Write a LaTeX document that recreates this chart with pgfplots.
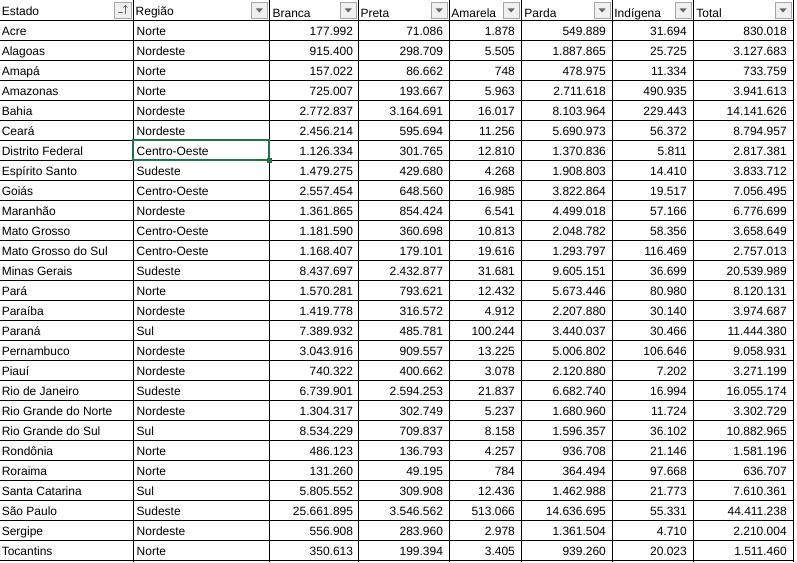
\documentclass[border=0pt]{standalone}
\usepackage{fontspec}
\setmainfont{Liberation Sans}
\usepackage{pgfplots}
\usepackage{pgfplotstable}
\pgfplotsset{compat=1.18}
\pgfplotstableread[col sep=semicolon]{
Estado;Regiao;Branca;Preta;Amarela;Parda;Indigena;Total
Acre;Norte;177.992;71.086;1.878;549.889;31.694;830.018
Alagoas;Nordeste;915.400;298.709;5.505;1.887.865;25.725;3.127.683
Amapá;Norte;157.022;86.662;748;478.975;11.334;733.759
Amazonas;Norte;725.007;193.667;5.963;2.711.618;490.935;3.941.613
Bahia;Nordeste;2.772.837;3.164.691;16.017;8.103.964;229.443;14.141.626
Ceará;Nordeste;2.456.214;595.694;11.256;5.690.973;56.372;8.794.957
Distrito Federal;Centro-Oeste;1.126.334;301.765;12.810;1.370.836;5.811;2.817.381
Espírito Santo;Sudeste;1.479.275;429.680;4.268;1.908.803;14.410;3.833.712
Goiás;Centro-Oeste;2.557.454;648.560;16.985;3.822.864;19.517;7.056.495
Maranhão;Nordeste;1.361.865;854.424;6.541;4.499.018;57.166;6.776.699
Mato Grosso;Centro-Oeste;1.181.590;360.698;10.813;2.048.782;58.356;3.658.649
Mato Grosso do Sul;Centro-Oeste;1.168.407;179.101;19.616;1.293.797;116.469;2.757.013
Minas Gerais;Sudeste;8.437.697;2.432.877;31.681;9.605.151;36.699;20.539.989
Pará;Norte;1.570.281;793.621;12.432;5.673.446;80.980;8.120.131
Paraíba;Nordeste;1.419.778;316.572;4.912;2.207.880;30.140;3.974.687
Paraná;Sul;7.389.932;485.781;100.244;3.440.037;30.466;11.444.380
Pernambuco;Nordeste;3.043.916;909.557;13.225;5.006.802;106.646;9.058.931
Piauí;Nordeste;740.322;400.662;3.078;2.120.880;7.202;3.271.199
Rio de Janeiro;Sudeste;6.739.901;2.594.253;21.837;6.682.740;16.994;16.055.174
Rio Grande do Norte;Nordeste;1.304.317;302.749;5.237;1.680.960;11.724;3.302.729
Rio Grande do Sul;Sul;8.534.229;709.837;8.158;1.596.357;36.102;10.882.965
Rondônia;Norte;486.123;136.793;4.257;936.708;21.146;1.581.196
Roraima;Norte;131.260;49.195;784;364.494;97.668;636.707
Santa Catarina;Sul;5.805.552;309.908;12.436;1.462.988;21.773;7.610.361
São Paulo;Sudeste;25.661.895;3.546.562;513.066;14.636.695;55.331;44.411.238
Sergipe;Nordeste;556.908;283.960;2.978;1.361.504;4.710;2.210.004
Tocantins;Norte;350.613;199.394;3.405;939.260;20.023;1.511.460
}\data
\definecolor{xlgreen}{HTML}{217346}
\newcommand{\fnt}{\fontsize{9}{10}\selectfont}
\newcommand{\txtcol}[3]{% meta, x, anchor
\addplot[draw=none, mark=none, nodes near coords, point meta=explicit symbolic,
  nodes near coords style={anchor=#3, inner sep=0pt, font=\fnt, text=black}]
  table[x expr=#2, y expr=35.5+20*\coordindex, meta=#1]{\data};}
\newcommand{\btn}[1]{% right edge x
\draw[gray!70, fill=gray!12] (axis cs:#1-18,2) rectangle (axis cs:#1-2,18);
\fill[gray!80!black] (axis cs:#1-13.5,8) -- (axis cs:#1-6.5,8) -- (axis cs:#1-10,12) -- cycle;}
\begin{document}
\begin{tikzpicture}
\begin{axis}[x=0.75pt, y=0.75pt, y dir=reverse, xmin=0, xmax=797, ymin=0, ymax=562,
  hide axis, clip=false, scale only axis]
\fill[white] (axis cs:0,0) rectangle (axis cs:797,562);
% grid
\foreach \yy in {20,40,...,560} {\edef\t{\noexpand\draw[black, line width=0.75pt] (axis cs:0,\yy) -- (axis cs:793,\yy);}\t}
\foreach \xx in {133,269,358,449,521,612,693,793} {\edef\t{\noexpand\draw[black, line width=0.75pt] (axis cs:\xx,0) -- (axis cs:\xx,562);}\t}
% header buttons
\draw[gray!70, fill=gray!12] (axis cs:114,2) rectangle (axis cs:131,18);
\draw[gray!80!black, line width=0.6pt] (axis cs:118,12) -- (axis cs:123,12);
\draw[gray!80!black, line width=0.6pt] (axis cs:125,5) -- (axis cs:125,14);
\draw[gray!80!black, line width=0.6pt] (axis cs:123,7) -- (axis cs:125,5) -- (axis cs:127,7);
\btn{269}\btn{358}\btn{449}\btn{521}\btn{612}\btn{693}\btn{793}
% header text
\node[anchor=base west, inner sep=0pt, font=\fnt] at (axis cs:1,15) {Estado};
\node[anchor=base west, inner sep=0pt, font=\fnt] at (axis cs:135,15) {Região};
\node[anchor=base west, inner sep=0pt, font=\fnt] at (axis cs:272,17) {Branca};
\node[anchor=base west, inner sep=0pt, font=\fnt] at (axis cs:360,17) {Preta};
\node[anchor=base west, inner sep=0pt, font=\fnt] at (axis cs:451,17) {Amarela};
\node[anchor=base west, inner sep=0pt, font=\fnt] at (axis cs:524,17) {Parda};
\node[anchor=base west, inner sep=0pt, font=\fnt] at (axis cs:614,17) {Indígena};
\node[anchor=base west, inner sep=0pt, font=\fnt] at (axis cs:696,17) {Total};
% body
\txtcol{Estado}{1}{base west}
\txtcol{Regiao}{136}{base west}
\txtcol{Branca}{353}{base east}
\txtcol{Preta}{443}{base east}
\txtcol{Amarela}{515}{base east}
\txtcol{Parda}{606}{base east}
\txtcol{Indigena}{687}{base east}
\txtcol{Total}{787}{base east}
% selection
\draw[xlgreen, line width=1.5pt] (axis cs:133,140) rectangle (axis cs:269,160);
\fill[xlgreen] (axis cs:266.5,157.5) rectangle (axis cs:271.5,162.5);
\end{axis}
\end{tikzpicture}
\end{document}
